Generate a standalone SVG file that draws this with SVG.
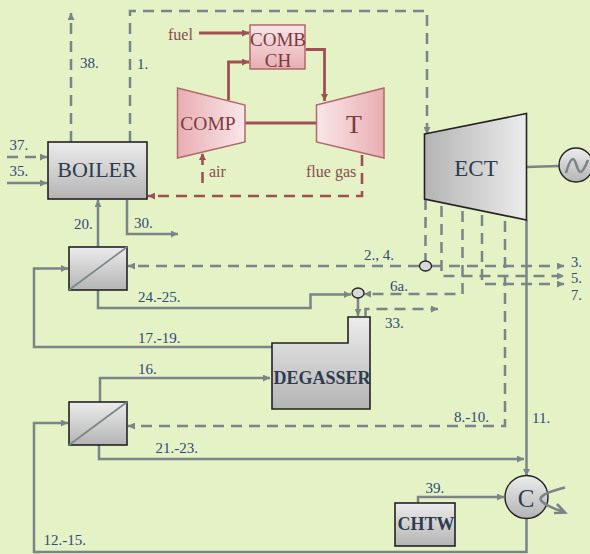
<svg xmlns="http://www.w3.org/2000/svg" width="590" height="554" viewBox="0 0 590 554">
<defs>
<linearGradient id="gv" x1="0" y1="0" x2="0" y2="1"><stop offset="0" stop-color="#ececec"/><stop offset="1" stop-color="#b4b4b4"/></linearGradient>
<linearGradient id="gh" x1="0" y1="0" x2="1" y2="0"><stop offset="0" stop-color="#b4b4b4"/><stop offset="1" stop-color="#ececec"/></linearGradient>
<linearGradient id="rv" x1="0" y1="0" x2="0" y2="1"><stop offset="0" stop-color="#fae6e8"/><stop offset="1" stop-color="#e8aeb2"/></linearGradient>
<linearGradient id="rl" x1="0" y1="0" x2="1" y2="0"><stop offset="0" stop-color="#e8aeb2"/><stop offset="1" stop-color="#fae6e8"/></linearGradient>
<linearGradient id="rr" x1="0" y1="0" x2="1" y2="0"><stop offset="0" stop-color="#fae6e8"/><stop offset="1" stop-color="#e8aeb2"/></linearGradient>
<marker id="ag" markerUnits="userSpaceOnUse" markerWidth="8" markerHeight="7" refX="7" refY="3.5" orient="auto"><path d="M0 0L7 3.5L0 7z" fill="#7a8587"/></marker>
<marker id="ar" markerUnits="userSpaceOnUse" markerWidth="8" markerHeight="7" refX="7" refY="3.5" orient="auto"><path d="M0 0L7 3.5L0 7z" fill="#a05055"/></marker>
</defs>
<style>
text{font-family:"Liberation Serif","DejaVu Serif",serif}
.g,.gd,.r,.rd{fill:none;stroke-width:2.5}
.g,.gd{stroke:#7a8587}
.r,.rd{stroke:#a05055}
.r{stroke-width:2.8}
.gd{stroke-dasharray:11 7}
.rd{stroke-dasharray:11 7;stroke-width:2.6}
.ga{marker-end:url(#ag)}
.ra{marker-end:url(#ar)}
.lb{fill:#2f4a78;font-size:15px}
.ls{font-size:14.5px}
.lr{fill:#8a4c50;font-size:16px}
.box{fill:url(#gv);stroke:#222;stroke-width:1.6}
.rbox{stroke:#b0686c;stroke-width:1.5}
.nt{fill:#2e3c50;text-anchor:middle}
.rt{fill:#7a3c40;text-anchor:middle}
</style>
<rect width="590" height="554" fill="#e4f2c6"/>
<g id="connectors">
<path class="gd ga" d="M71 142V13"/>
<path class="gd ga" d="M130 142V11H427V134"/>
<path class="gd ga" d="M7 157H47"/>
<path class="g ga" d="M7 183H47"/>
<path class="g ga" d="M98 247V200"/>
<path class="g ga" d="M127 200V234H178"/>
<path class="gd ga" d="M419 266H128"/>
<path class="gd" d="M425.5 199V261"/>
<path class="gd ga" d="M431 266H564"/>
<path class="gd ga" d="M441.5 206V276H564"/>
<path class="gd ga" d="M462.5 211V294H364"/>
<path class="gd ga" d="M482 215V284H564"/>
<path class="gd ga" d="M505 221V426H128"/>
<path class="g ga" d="M526.5 220V476"/>
<path class="g ga" d="M98 290V308H310.5V294.5H351"/>
<path class="g ga" d="M358 298V316"/>
<path class="gd ga" d="M365.5 316V309H438"/>
<path class="g ga" d="M272 347H34V268.5H68"/>
<path class="g ga" d="M100 402V378H270"/>
<path class="g ga" d="M99 445V459H524"/>
<path class="g ga" d="M526.5 519V552H34V423H68"/>
<path class="g ga" d="M418 503V497H504"/>
<path class="g" d="M526 167L559 166"/>
<path class="r ra" d="M199 33H249"/>
<path class="r ra" d="M228.5 100V62H249"/>
<path class="r ra" d="M306 49.5H324.5V101"/>
<path class="r" d="M245 123H317"/>
<path class="rd ra" d="M202.5 183V153"/>
<path class="rd ra" d="M362 155V196H148"/>
</g>
<g id="boiler"><rect class="box" x="48" y="142" width="99" height="57"/><text class="nt" x="97" y="177" font-size="22">BOILER</text></g>
<g id="comb"><rect class="rbox" x="250" y="25" width="55" height="44" fill="url(#rv)"/><text class="rt" x="278" y="46" font-size="19">COMB</text><text class="rt" x="278" y="67" font-size="19">CH</text></g>
<g id="comp"><path class="rbox" d="M177.5 88L245 105V142L177.5 158z" fill="url(#rl)"/><text class="rt" x="208" y="130" font-size="19.5">COMP</text></g>
<g id="turbine"><path class="rbox" d="M316.5 105L384 88V158L316.5 142z" fill="url(#rr)"/><text class="rt" x="354" y="133" font-size="26">T</text></g>
<g id="ect"><path d="M424.5 134L526.5 113.5V220L424.5 199z" fill="url(#gh)" stroke="#222" stroke-width="1.6"/><text class="nt" x="476" y="176" font-size="23">ECT</text></g>
<g id="generator"><circle cx="576" cy="165" r="17" fill="url(#gv)" stroke="#222" stroke-width="1.4"/><path d="M566 173C569 162 571 159 573 159C576 159 577 172 580.5 172C583 172 586 165 588 160" fill="none" stroke="#7a8587" stroke-width="2.6"/></g>
<g id="hx1"><rect class="box" x="69" y="247" width="58" height="43"/><path d="M69 290L127 247" stroke="#7a8587" stroke-width="1.6"/></g>
<g id="hx2"><rect class="box" x="69" y="402" width="58" height="43"/><path d="M69 445L127 402" stroke="#7a8587" stroke-width="1.6"/></g>
<g id="junction1"><ellipse cx="425.5" cy="266" rx="6" ry="5" fill="#d8d8d8" stroke="#222" stroke-width="1.3"/></g>
<g id="junction2"><ellipse cx="358" cy="293" rx="6" ry="5" fill="#d8d8d8" stroke="#222" stroke-width="1.3"/></g>
<g id="degasser"><path d="M272 343H348V317H370V409H272z" fill="url(#gv)" stroke="#222" stroke-width="1.6"/><text class="nt" x="322" y="384" font-size="18" font-weight="bold">DEGASSER</text></g>
<g id="chtw"><rect class="box" x="395" y="503" width="60" height="43"/><text class="nt" x="426" y="530" font-size="18" font-weight="bold">CHTW</text></g>
<g id="condenser"><circle cx="526.5" cy="497" r="21.5" fill="url(#gv)" stroke="#222" stroke-width="1.4"/><text class="nt" x="526" y="507" font-size="25">C</text><path d="M565 487.5C552 491 541 494 540.5 499C541 503 553 509 565 512M557 504L565 512.5L554 513" fill="none" stroke="#7a8587" stroke-width="2.6"/></g>
<g id="labels">
<text class="lb" x="80" y="68">38.</text><text class="lb" x="137" y="69">1.</text>
<text class="lb" x="9.5" y="150">37.</text><text class="lb" x="9.5" y="176">35.</text>
<text class="lb" x="74" y="229">20.</text><text class="lb" x="134" y="228">30.</text>
<text class="lb" x="364" y="260">2., 4.</text>
<text class="lb ls" x="571" y="267">3.</text><text class="lb ls" x="571" y="283">5.</text><text class="lb ls" x="571" y="300">7.</text>
<text class="lb" x="138" y="302">24.-25.</text><text class="lb" x="390" y="291">6a.</text><text class="lb" x="385" y="328">33.</text>
<text class="lb" x="138" y="343">17.-19.</text><text class="lb" x="138" y="374">16.</text>
<text class="lb" x="454" y="422">8.-10.</text><text class="lb" x="532" y="423">11.</text>
<text class="lb" x="155.5" y="453">21.-23.</text><text class="lb" x="425.5" y="493">39.</text><text class="lb" x="43.5" y="545">12.-15.</text>
<text class="lr" x="168" y="40">fuel</text><text class="lr" x="209" y="177">air</text><text class="lr" x="306" y="177">flue gas</text>
</g>
</svg>
